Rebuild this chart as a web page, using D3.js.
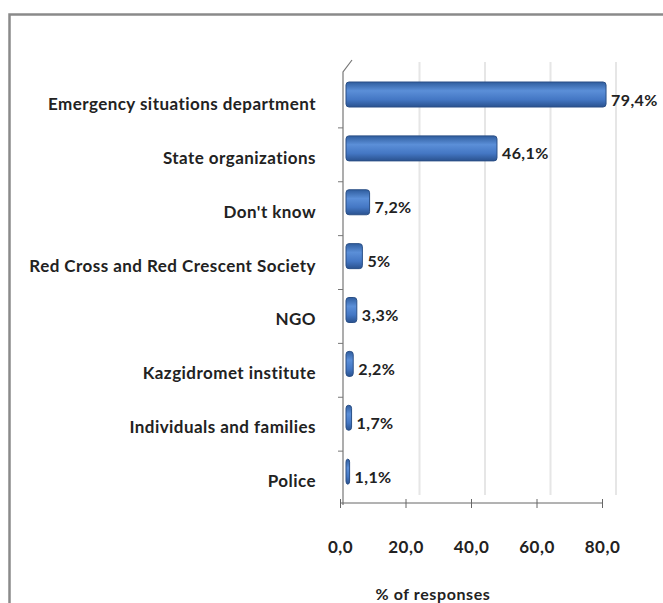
<!DOCTYPE html>
<html><head><meta charset="utf-8">
<script src="https://cdn.jsdelivr.net/npm/d3@7"></script>
<style>body{margin:0;background:#fff}</style>
</head><body>
<script>
const categories = ["Emergency situations department","State organizations","Don't know","Red Cross and Red Crescent Society","NGO","Kazgidromet institute","Individuals and families","Police"];
const values = [79.4, 46.1, 7.2, 5, 3.3, 2.2, 1.7, 1.1];
const valueLabels = ["79,4%","46,1%","7,2%","5%","3,3%","2,2%","1,7%","1,1%"];
const ticks = [0, 20, 40, 60, 80];
const axisTitle = "% of responses";

const W = 663, H = 603;
const svg = d3.select("body").append("svg").attr("width", W).attr("height", H);
const font = "Lato, 'Open Sans', sans-serif";

const defs = svg.append("defs");
const g1 = defs.append("linearGradient").attr("id","bg").attr("x1",0).attr("y1",0).attr("x2",0).attr("y2",1);
g1.append("stop").attr("offset","0%").attr("stop-color","#2f5d9e");
g1.append("stop").attr("offset","35%").attr("stop-color","#5b8fd8");
g1.append("stop").attr("offset","70%").attr("stop-color","#4477c4");
g1.append("stop").attr("offset","100%").attr("stop-color","#2a528f");

// frame
svg.append("path").attr("d","M9.5,603 V14.5 H663").attr("fill","none").attr("stroke","#8a8a8a").attr("stroke-width",2.5);

const x = d3.scaleLinear().domain([0, 80]).range([340, 602]);
const y = d3.scaleBand().domain(categories).range([74, 505]);
const depth = 14;

// back gridlines
svg.append("g").selectAll("line").data(ticks.slice(1)).join("line")
  .attr("x1", d => x(d) + depth).attr("x2", d => x(d) + depth)
  .attr("y1", 62).attr("y2", 495)
  .attr("stroke", "#e6e6e6").attr("stroke-width", 2);

// y axis line with 3D cap
svg.append("path").attr("d", `M343,505 V72 L352,60`).attr("fill","none").attr("stroke","#777").attr("stroke-width",1.2);
svg.append("g").selectAll("line").data(categories.slice(1)).join("line")
  .attr("x1", 338).attr("x2", 343)
  .attr("y1", d => y(d)).attr("y2", d => y(d))
  .attr("stroke", "#777");

// bottom axis
const xAxis = d3.axisBottom(x).tickValues(ticks).tickSize(5).tickFormat(d => d3.format(".1f")(d).replace(".", ","));
const ax = svg.append("g").attr("transform","translate(0,503)").call(xAxis);
ax.select(".domain").attr("stroke","#666").attr("d","M340,0H602");
ax.selectAll(".tick line").attr("stroke","#666").attr("y1",-4).attr("y2",5);
ax.selectAll(".tick text").attr("y", 38).attr("font-family", font).attr("font-weight","bold").attr("font-size",17).attr("letter-spacing",0.5).attr("fill","#222");

// bars
const bo = 6;
svg.append("g").selectAll("rect").data(values).join("rect")
  .attr("x", x(0) + bo)
  .attr("y", (d,i) => y(categories[i]) + 8)
  .attr("width", d => x(d) - x(0))
  .attr("height", 25)
  .attr("rx", 3)
  .attr("fill", "url(#bg)")
  .attr("stroke", "#2a4f86").attr("stroke-width", 1);

// value labels
svg.append("g").selectAll("text").data(values).join("text")
  .attr("x", d => x(d) + bo + 5)
  .attr("y", (d,i) => y(categories[i]) + y.bandwidth()/2 - 1)
  .attr("dy","0.35em")
  .attr("font-family", font).attr("font-weight","bold").attr("font-size",16).attr("letter-spacing",0.4).attr("fill","#222")
  .text((d,i) => valueLabels[i]);

// category labels
svg.append("g").selectAll("text").data(categories).join("text")
  .attr("x", 316)
  .attr("y", d => y(d) + y.bandwidth()/2 + 3)
  .attr("dy","0.35em").attr("text-anchor","end")
  .attr("font-family", font).attr("font-weight","bold").attr("font-size",17).attr("letter-spacing",0.45).attr("fill","#222")
  .text(d => d);

svg.append("text").attr("x", 433).attr("y", 600).attr("text-anchor","middle")
  .attr("font-family", font).attr("font-weight","bold").attr("font-size",16).attr("letter-spacing",0.6).attr("fill","#222")
  .text(axisTitle);
</script>
</body></html>
